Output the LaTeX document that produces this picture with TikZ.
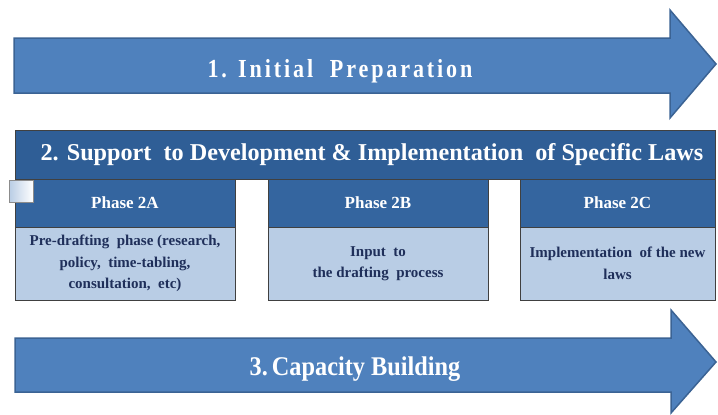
\documentclass[tikz,border=0pt]{standalone}
\usepackage{fontspec}
\setmainfont{Liberation Serif}
\definecolor{arrowblue}{HTML}{4F81BD}
\definecolor{arrowedge}{HTML}{3B6394}
\definecolor{banddark}{HTML}{2F5E96}
\definecolor{phasehead}{HTML}{34659F}
\definecolor{phasebody}{HTML}{B9CDE5}
\definecolor{bodytext}{HTML}{1F2F5A}

\begin{document}
\begin{tikzpicture}[x=1pt, y=-1pt,
    bigarrow/.style={fill=arrowblue, draw=arrowedge, line width=1.5pt, line join=miter},
    headbox/.style={fill=phasehead, draw=black!75, line width=0.8pt},
    bodybox/.style={fill=phasebody, draw=black!75, line width=0.8pt},
    arrowtext/.style={text=white, anchor=base, inner sep=0pt, font=\bfseries\fontsize{26}{30}\selectfont},
    headtext/.style={text=white, font=\bfseries\fontsize{17}{20}\selectfont},
    bodytext/.style={text=bodytext, align=center, font=\bfseries\fontsize{15}{21.5}\selectfont}]
    \useasboundingbox (0,0) rectangle (718,415);
    \coordinate (a) at (14, 38);
    \coordinate (b) at (15, 338);
    \draw[bigarrow] (a) -- (670,38) -- (670,10) -- (716,64) -- (670,118) -- (670,93) -- (14,93) -- cycle;
    \node[arrowtext] (initial) at (340, 77) {\scalebox{0.85}[1]{\addfontfeature{LetterSpace=13}1. Initial\ \ Preparation}};
    \draw[fill=banddark, draw=black!75, line width=0.8pt] (15,130) rectangle (715,179);
    \node[text=white, font=\bfseries\fontsize{24.2}{28}\selectfont] (support) at (372, 155) {2. Support\ \ to Development \& Implementation\ \ of Specific Laws};
    \draw[headbox] (15,179) rectangle (235,227)node[midway, headtext](phaseA){Phase 2A};
    \draw[bodybox] (15,227) rectangle (235,300)node[midway, bodytext](preA){Pre-drafting\ \ phase (research,\\policy,\ \ time-tabling,\\consultation,\ \ etc)};
    \draw[headbox] (268,179) rectangle (488,227)node[midway, headtext](phaseB){Phase 2B};
    \draw[bodybox] (268,227) rectangle (488,300)node[midway, bodytext](inputB){Input\ \ to\\the drafting\ \ process};
    \draw[headbox] (520,179) rectangle (715,227)node[midway, headtext](phaseC){Phase 2C};
    \draw[bodybox] (520,227) rectangle (715,300)node[midway, bodytext](implC){Implementation\ \ of the new\\laws};
    \draw[left color=arrowblue!40, right color=white, draw=black!45, line width=0.6pt] (9,180) rectangle (33,202);
    \draw[bigarrow] (b) -- (671,338) -- (671,310) -- (716,362) -- (671,413) -- (671,392) -- (15,392) -- cycle;
    \node[arrowtext] (capacity) at (355, 375) {\scalebox{0.9}[1]{\fontsize{27}{30}\selectfont 3.\,Capacity Building}};
\end{tikzpicture}
\end{document}
